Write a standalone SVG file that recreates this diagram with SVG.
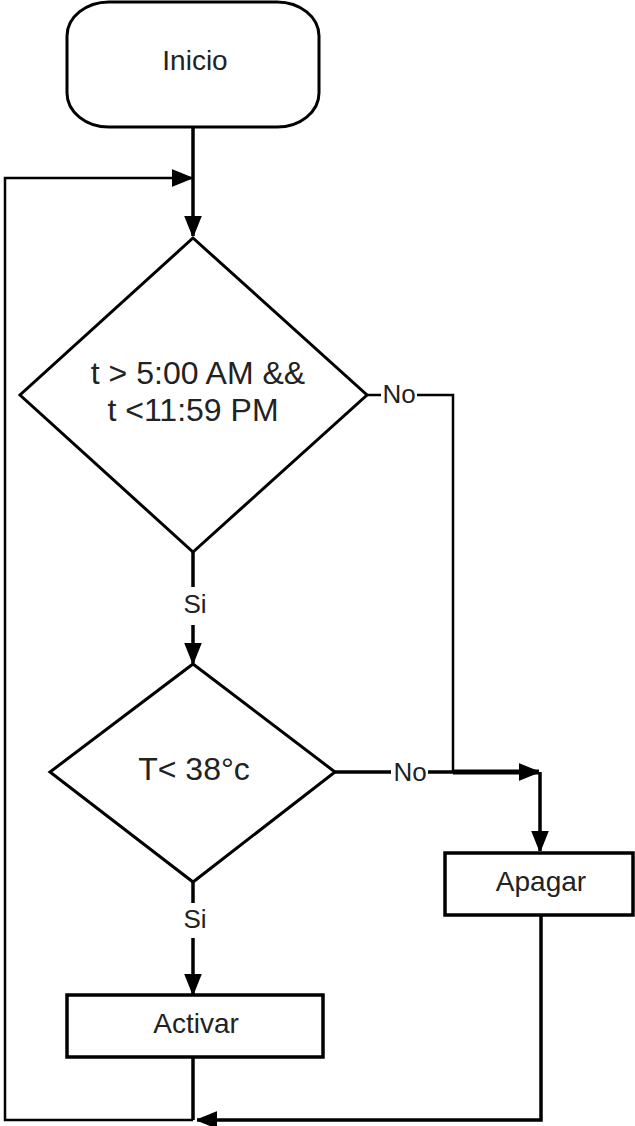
<svg xmlns="http://www.w3.org/2000/svg" width="635" height="1126" viewBox="0 0 635 1126">
<style>
.shape{fill:#ffffff;stroke:#000000;stroke-width:3}
.box{fill:#ffffff;stroke:#000000;stroke-width:3.5}
.txt{font-family:"Liberation Sans",Arial,sans-serif;font-size:28px;fill:#222222;text-anchor:middle}
.big{font-size:32px}
.lbl{font-family:"Liberation Sans",Arial,sans-serif;font-size:26px;fill:#222222;text-anchor:middle}
.c{fill:none;stroke:#000000;stroke-width:3.5}
.t{fill:none;stroke:#000000;stroke-width:2.5}
.k{fill:none;stroke:#000000;stroke-width:5}
</style>
<defs>
<marker id="ah" markerUnits="userSpaceOnUse" markerWidth="20" markerHeight="18" refX="20" refY="9" orient="auto" viewBox="0 0 20 18">
<path d="M0,1 L20,9 L0,17 z" fill="#000000" stroke="#000000" stroke-width="1.5" stroke-linejoin="round"/>
</marker>
</defs>
<g id="connectors">
<path class="c" d="M193,127 V236" marker-end="url(#ah)"/>
<path class="t" d="M193,1120 H5 V178 H192" marker-end="url(#ah)"/>
<path class="c" d="M193,1057 V1120"/>
<path class="c" d="M541,915 V1120 H197" marker-end="url(#ah)"/>
<path class="c" d="M193,552 V587"/>
<path class="c" d="M193,625 V663" marker-end="url(#ah)"/>
<path class="t" d="M367,395 H381"/>
<path class="t" d="M417,395 H453 V772"/>
<path class="c" d="M335,772 H391"/>
<path class="c" d="M428,772 H453"/>
<path class="k" d="M453,772 H539" marker-end="url(#ah)"/>
<path class="c" d="M540,772 V851" marker-end="url(#ah)"/>
<path class="c" d="M193,882 V903"/>
<path class="c" d="M193,938 V994" marker-end="url(#ah)"/>
<text class="lbl" x="399" y="403">No</text>
<text class="lbl" x="410" y="781">No</text>
<text class="lbl" x="195" y="613">Si</text>
<text class="lbl" x="195" y="928">Si</text>
</g>
<g id="inicio">
<rect class="shape" x="67" y="2" width="252" height="125" rx="42" ry="34"/>
<text class="txt" x="195" y="70">Inicio</text>
</g>
<g id="decision1">
<polygon class="shape" points="193,238 367,395 193,552 20,395"/>
<text class="txt big" x="198" y="384">t &gt; 5:00 AM &amp;&amp;</text>
<text class="txt big" x="193" y="421">t &lt;11:59 PM</text>
</g>
<g id="decision2">
<polygon class="shape" points="193,664 335,772 193,882 50,772"/>
<text class="txt big" x="194" y="780">T&lt; 38°c</text>
</g>
<g id="apagar">
<rect class="box" x="445" y="853" width="188" height="62"/>
<text class="txt" x="541" y="891">Apagar</text>
</g>
<g id="activar">
<rect class="box" x="67" y="995" width="256" height="62"/>
<text class="txt" x="196" y="1033">Activar</text>
</g>
</svg>
